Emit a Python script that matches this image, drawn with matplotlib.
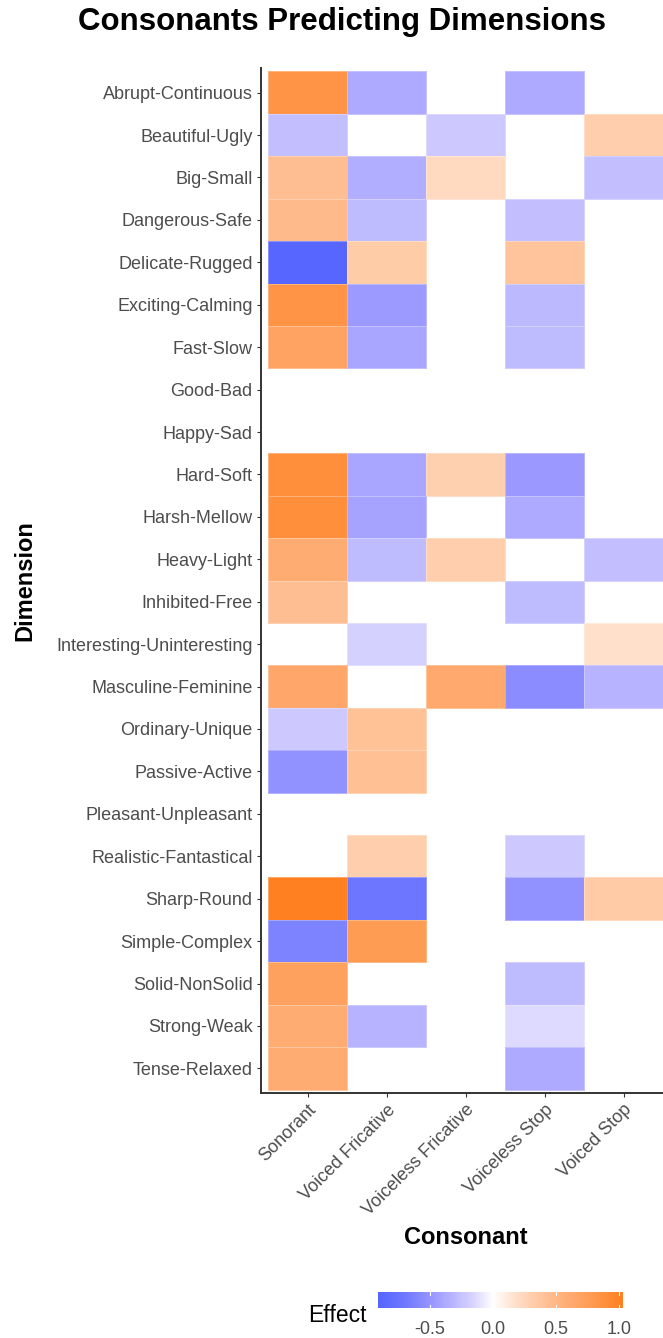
import numpy as np
import matplotlib
matplotlib.use("Agg")
from matplotlib import pyplot as plt
from matplotlib.colors import LinearSegmentedColormap, Normalize

plt.rcParams['font.family'] = ['Liberation Sans', 'DejaVu Sans']

consonants = ["Sonorant", "Voiced Fricative", "Voiceless Fricative",
              "Voiceless Stop", "Voiced Stop"]

dimensions = ["Abrupt-Continuous", "Beautiful-Ugly", "Big-Small", "Dangerous-Safe",
              "Delicate-Rugged", "Exciting-Calming", "Fast-Slow", "Good-Bad",
              "Happy-Sad", "Hard-Soft", "Harsh-Mellow", "Heavy-Light",
              "Inhibited-Free", "Interesting-Uninteresting", "Masculine-Feminine",
              "Ordinary-Unique", "Passive-Active", "Pleasant-Unpleasant",
              "Realistic-Fantastical", "Sharp-Round", "Simple-Complex",
              "Solid-NonSolid", "Strong-Weak", "Tense-Relaxed"]

nan = np.nan
# effect per dimension (same order as dimensions), one list per consonant
sonorant = [0.85, -0.27, 0.45, 0.48, -0.91, 0.85, 0.70, nan, nan, 0.90, 0.90, 0.60,
            0.45, nan, 0.65, -0.22, -0.53, nan, nan, 1.03, -0.63, 0.72, 0.60, 0.60]
voiced_fric = [-0.38, nan, -0.37, -0.29, 0.33, -0.47, -0.41, nan, nan, -0.41, -0.42, -0.29,
               nan, -0.18, nan, 0.42, 0.43, nan, 0.32, -0.72, 0.78, nan, -0.33, nan]
voiceless_fric = [nan, -0.22, 0.22, nan, nan, nan, nan, nan, nan, 0.30, nan, 0.32,
                  nan, nan, 0.63, nan, nan, nan, nan, nan, nan, nan, nan, nan]
voiceless_stop = [-0.38, nan, nan, -0.27, 0.40, -0.30, -0.29, nan, nan, -0.48, -0.38, nan,
                  -0.29, nan, -0.56, nan, nan, nan, -0.22, -0.53, nan, -0.29, -0.14, -0.38]
voiced_stop = [nan, 0.32, -0.27, nan, nan, nan, nan, nan, nan, nan, nan, -0.27,
               nan, 0.18, -0.33, nan, nan, nan, nan, 0.35, nan, nan, nan, nan]

effect = np.array([sonorant, voiced_fric, voiceless_fric, voiceless_stop, voiced_stop]).T

# diverging blue - white - orange, roughly like the ggplot gradient2
lim = 1.03
cmap = LinearSegmentedColormap.from_list("effect", [
    (0.0, "#4a5cff"),
    (0.16, "#7078ff"),
    (0.26, "#9896ff"),
    (0.355, "#bebaff"),
    (0.43, "#dcd8ff"),
    (0.5, "#ffffff"),
    (0.6, "#ffdcc4"),
    (0.7, "#ffc298"),
    (0.79, "#ffac74"),
    (0.89, "#ff9a50"),
    (1.0, "#ff8020"),
])
norm = Normalize(-lim, lim)

fig = plt.figure(figsize=(6.63, 13.38), dpi=100)
ax = fig.add_axes([261 / 663, 1 - 1093 / 1338, 1 - 261 / 663, (1093 - 68) / 1338])

masked = np.ma.masked_invalid(effect)
mesh = ax.pcolormesh(np.arange(6) - 0.5, np.arange(25) - 0.5, masked, cmap=cmap,
                     norm=norm, linewidth=0.5)
## bordes solo en las celdas con dato
edges = np.zeros((effect.size, 4))
valid = ~np.isnan(effect.ravel())
edges[valid] = [1, 1, 1, 0.3]
mesh.set_edgecolors(edges)

ax.set_xlim(-0.59, 4.5)
ax.set_ylim(23.58, -0.58)

ax.set_xticks(range(len(consonants)))
ax.set_xticklabels(consonants, rotation=45, ha="right", rotation_mode="anchor",
                   fontsize=13, color="#4d4d4d")
ax.set_yticks(range(len(dimensions)))
ax.set_yticklabels(dimensions, fontsize=13, color="#4d4d4d")
ax.tick_params(length=3, color="#333333", width=0.8, pad=3)

for s in ["top", "right"]:
    ax.spines[s].set_visible(False)
for s in ["left", "bottom"]:
    ax.spines[s].set_color("#333333")
    ax.spines[s].set_linewidth(1.4)

ax.set_xlabel("Consonant", fontsize=17, fontweight="bold")
ax.set_ylabel("Dimension", fontsize=17, fontweight="bold")
ax.xaxis.set_label_coords((466 - 261) / (663 - 261), -(1238 - 1093) / (1093 - 68))
ax.yaxis.set_label_coords(-(261 - 25) / (663 - 261), 0.5)
ax.xaxis.label.set_va("center")
ax.yaxis.label.set_va("center")

fig.suptitle("Consonants Predicting Dimensions", fontsize=22.5, fontweight="bold",
             x=342 / 663, y=1 - 22 / 1338, va="center")

# colorbar
vmin, vmax = -0.91, 1.03
cax = fig.add_axes([378 / 663, 1 - 1308 / 1338, (623 - 378) / 663, 16 / 1338])
grad = np.linspace(vmin, vmax, 256)
cax.imshow(grad[np.newaxis, :], aspect="auto", cmap=cmap, norm=norm,
           extent=[vmin, vmax, 0, 1])
cax.set_xlim(vmin, vmax)
cax.set_yticks([])
cax.set_xticks([-0.5, 0.0, 0.5, 1.0])
cax.set_xticklabels(["-0.5", "0.0", "0.5", "1.0"], fontsize=13, color="#4d4d4d")
cax.tick_params(axis="x", length=0, pad=9)
for t in [-0.5, 0.0, 0.5, 1.0]:
    cax.plot([t, t], [0, 0.2], color="white", lw=0.8)
    cax.plot([t, t], [0.8, 1], color="white", lw=0.8)
for s in cax.spines.values():
    s.set_visible(False)
fig.text(367 / 663, 1 - 1315 / 1338, "Effect", fontsize=16.5, ha="right", va="center",
         color="black")

fig.savefig("out.png", dpi=100)
